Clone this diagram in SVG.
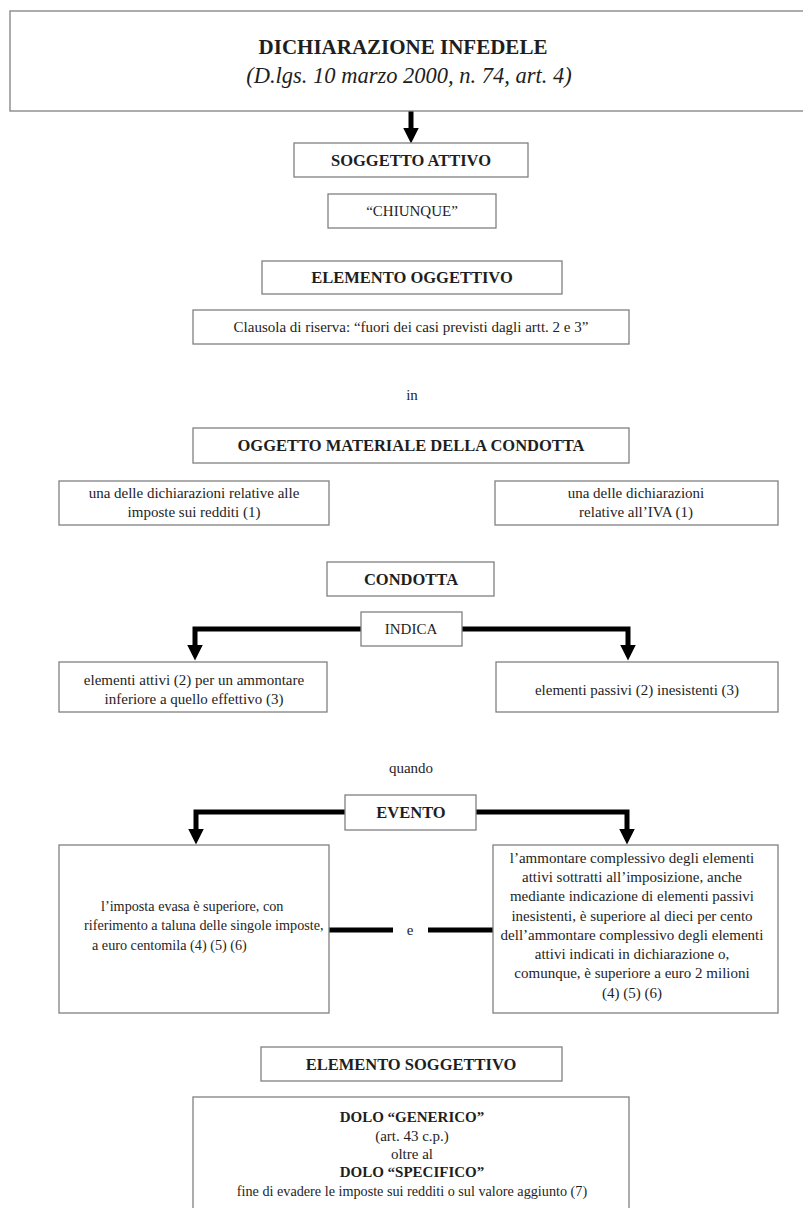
<svg xmlns="http://www.w3.org/2000/svg" width="803" height="1208" viewBox="0 0 803 1208">
  <style>
    .box { fill: #ffffff; stroke: #808080; stroke-width: 1.3; }
    .t { font-family: "Liberation Serif", "Times New Roman", serif; font-size: 15px; fill: #1e1e1e; text-anchor: middle; }
    .s { font-size: 14.2px; }
    .h { font-family: "Liberation Serif", "Times New Roman", serif; font-size: 16.5px; font-weight: bold; fill: #1e1e1e; text-anchor: middle; }
    .b { font-weight: bold; }
    .title { font-family: "Liberation Serif", "Times New Roman", serif; font-size: 21px; font-weight: bold; fill: #1e1e1e; text-anchor: middle; }
    .sub { font-family: "Liberation Serif", "Times New Roman", serif; font-size: 22.5px; font-style: italic; fill: #1e1e1e; text-anchor: middle; }
    .ln { fill: none; stroke: #000000; stroke-width: 5; stroke-linejoin: miter; }
    .l { text-anchor: start; }
  </style>
  <defs>
    <marker id="head" markerUnits="userSpaceOnUse" markerWidth="16" markerHeight="16" refX="0.5" refY="8" orient="auto">
      <path d="M0,0 L16,8 L0,16 Z" fill="#000000"/>
    </marker>
  </defs>

  <rect width="803" height="1208" fill="#ffffff"/>

  <!-- connectors -->
  <g id="connectors">
    <path class="ln" d="M411,111 V128" stroke-width="4" marker-end="url(#head)"/>
    <path class="ln" d="M361,629 H195 V645" marker-end="url(#head)"/>
    <path class="ln" d="M462,629 H628 V645" marker-end="url(#head)"/>
    <path class="ln" d="M345,812 H196 V829" marker-end="url(#head)"/>
    <path class="ln" d="M476,812 H627 V829" marker-end="url(#head)"/>
    <path class="ln" d="M329,930 H393"/>
    <path class="ln" d="M428,930 H493"/>
  </g>

  <g id="title">
    <rect class="box" x="10" y="11" width="800" height="100"/>
    <text class="title" x="403" y="54">DICHIARAZIONE INFEDELE</text>
    <text class="sub" x="409" y="83">(D.lgs. 10 marzo 2000, n. 74, art. 4)</text>
  </g>

  <g id="soggetto-attivo">
    <rect class="box" x="294" y="143" width="234" height="34"/>
    <text class="h" x="411" y="166">SOGGETTO ATTIVO</text>
  </g>

  <g id="chiunque">
    <rect class="box" x="328" y="194" width="168" height="34"/>
    <text class="t" x="412" y="216">“CHIUNQUE”</text>
  </g>

  <g id="elemento-oggettivo">
    <rect class="box" x="262" y="261" width="300" height="33"/>
    <text class="h" x="412" y="283">ELEMENTO OGGETTIVO</text>
  </g>

  <g id="clausola">
    <rect class="box" x="193" y="310" width="436" height="34"/>
    <text class="t" x="411" y="332">Clausola di riserva: “fuori dei casi previsti dagli artt. 2 e 3”</text>
  </g>

  <g id="in">
    <text class="t" x="412" y="400">in</text>
  </g>

  <g id="oggetto-materiale">
    <rect class="box" x="193" y="428" width="436" height="35"/>
    <text class="h" x="411" y="451">OGGETTO MATERIALE DELLA CONDOTTA</text>
  </g>

  <g id="dichiarazioni-redditi">
    <rect class="box" x="59" y="481" width="270" height="44"/>
    <text class="t" x="194" y="498">una delle dichiarazioni relative alle</text>
    <text class="t" x="194" y="517">imposte sui redditi (1)</text>
  </g>

  <g id="dichiarazioni-iva">
    <rect class="box" x="495" y="481" width="283" height="44"/>
    <text class="t" x="636" y="498">una delle dichiarazioni</text>
    <text class="t" x="636" y="517">relative all’IVA (1)</text>
  </g>

  <g id="condotta">
    <rect class="box" x="327" y="562" width="167" height="34"/>
    <text class="h" x="411" y="585">CONDOTTA</text>
  </g>

  <g id="indica">
    <rect class="box" x="361" y="612" width="101" height="34"/>
    <text class="t" x="411" y="634">INDICA</text>
  </g>

  <g id="elementi-attivi">
    <rect class="box" x="59" y="662" width="268" height="50"/>
    <text class="t" x="194" y="685">elementi attivi (2) per un ammontare</text>
    <text class="t" x="194" y="704">inferiore a quello effettivo (3)</text>
  </g>

  <g id="elementi-passivi">
    <rect class="box" x="496" y="662" width="282" height="50"/>
    <text class="t" x="637" y="695">elementi passivi (2) inesistenti (3)</text>
  </g>

  <g id="quando">
    <text class="t" x="411" y="773">quando</text>
  </g>

  <g id="evento">
    <rect class="box" x="345" y="795" width="131" height="35"/>
    <text class="h" x="411" y="818">EVENTO</text>
  </g>

  <g id="imposta-evasa">
    <rect class="box" x="59" y="845" width="270" height="168"/>
    <text class="t s l" x="101" y="911">l’imposta evasa è superiore, con</text>
    <text class="t s l" x="84" y="930">riferimento a taluna delle singole imposte,</text>
    <text class="t s l" x="92" y="950">a euro centomila (4) (5) (6)</text>
  </g>

  <g id="e">
    <text class="t" x="410" y="935">e</text>
  </g>

  <g id="ammontare-elementi">
    <rect class="box" x="493" y="845" width="285" height="168"/>
    <text class="t" x="632" y="863">l’ammontare complessivo degli elementi</text>
    <text class="t" x="632" y="882">attivi sottratti all’imposizione, anche</text>
    <text class="t" x="632" y="901">mediante indicazione di elementi passivi</text>
    <text class="t" x="632" y="921">inesistenti, è superiore al dieci per cento</text>
    <text class="t" x="632" y="940">dell’ammontare complessivo degli elementi</text>
    <text class="t" x="632" y="959">attivi indicati in dichiarazione o,</text>
    <text class="t" x="632" y="978">comunque, è superiore a euro 2 milioni</text>
    <text class="t" x="632" y="998">(4) (5) (6)</text>
  </g>

  <g id="elemento-soggettivo">
    <rect class="box" x="261" y="1047" width="301" height="34"/>
    <text class="h" x="411" y="1070">ELEMENTO SOGGETTIVO</text>
  </g>

  <g id="dolo">
    <rect class="box" x="193" y="1097" width="436" height="130"/>
    <text class="t b" x="412" y="1122">DOLO “GENERICO”</text>
    <text class="t" x="412" y="1141">(art. 43 c.p.)</text>
    <text class="t" x="412" y="1159">oltre al</text>
    <text class="t b" x="412" y="1177">DOLO “SPECIFICO”</text>
    <text class="t s" x="412" y="1196">fine di evadere le imposte sui redditi o sul valore aggiunto (7)</text>
  </g>
</svg>
